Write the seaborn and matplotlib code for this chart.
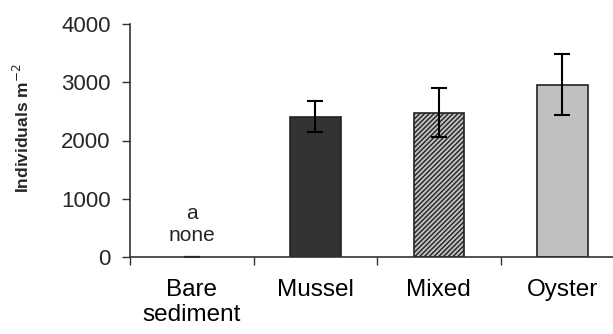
import matplotlib
matplotlib.use("Agg")
import matplotlib.pyplot as plt
import seaborn as sns
import pandas as pd

categories = ["Bare\nsediment", "Mussel", "Mixed", "Oyster"]
means = [0, 2410, 2480, 2960]
errors = [0, 270, 420, 520]
bar_colors = ["#ffffff", "#333333", "#c0c0c0", "#c0c0c0"]
yticks = [0, 1000, 2000, 3000, 4000]

sns.set_theme(style="white")
plt.rcParams["font.family"] = ["Liberation Sans", "DejaVu Sans"]

df = pd.DataFrame({"cat": categories, "val": means})

fig = plt.figure(figsize=(6.13, 3.34), dpi=100)
ax = fig.add_axes([130 / 613, 1 - 257 / 334, 1 - 130 / 613, (257 - 24) / 334])

sns.barplot(data=df, x="cat", y="val", hue="cat", palette=bar_colors,
            legend=False, width=0.41, ax=ax, errorbar=None,
            edgecolor="#222222", linewidth=1.2)
for i, p in enumerate(ax.patches):
    if i == 0:
        p.set_linewidth(0)
    if i == 2:
        p.set_hatch("///////")
        p.set_edgecolor("#222222")
ax.errorbar(range(len(categories)), means, yerr=errors, fmt="none",
            ecolor="black", elinewidth=1.5, capsize=5.5, capthick=1.5)

ax.text(0, 755, "a", ha="center", va="center", fontsize=15)
ax.text(0, 370, "none", ha="center", va="center", fontsize=15)

ax.set_ylim(0, 4000)
ax.set_xlim(-0.5, 3.41)
ax.set_yticks(yticks)
ax.set_yticklabels([str(v) for v in yticks], fontsize=16)
ax.set_xticks(range(len(categories)))
ax.set_xticklabels(categories, fontsize=17.5, linespacing=1.15)
ax.set_xticks([-0.5, 0.5, 1.5, 2.5], minor=True)
ax.tick_params(axis="x", which="major", length=0, pad=16, colors="black")
ax.tick_params(axis="x", which="minor", length=6, width=1, color="#333333", bottom=True)
ax.tick_params(axis="y", which="major", length=6, width=1, color="#333333", left=True, pad=8)
ax.set_xlabel("")
ax.set_ylabel("")
for s in ["top", "right"]:
    ax.spines[s].set_visible(False)
for s in ["left", "bottom"]:
    ax.spines[s].set_color("#333333")
    ax.spines[s].set_linewidth(1.2)

fig.text(22 / 613, 1 - 128 / 334, "Individuals m$^{-2}$", rotation=90,
         ha="center", va="center", fontsize=12.5, fontweight="bold")

fig.savefig("out.png", dpi=100)
